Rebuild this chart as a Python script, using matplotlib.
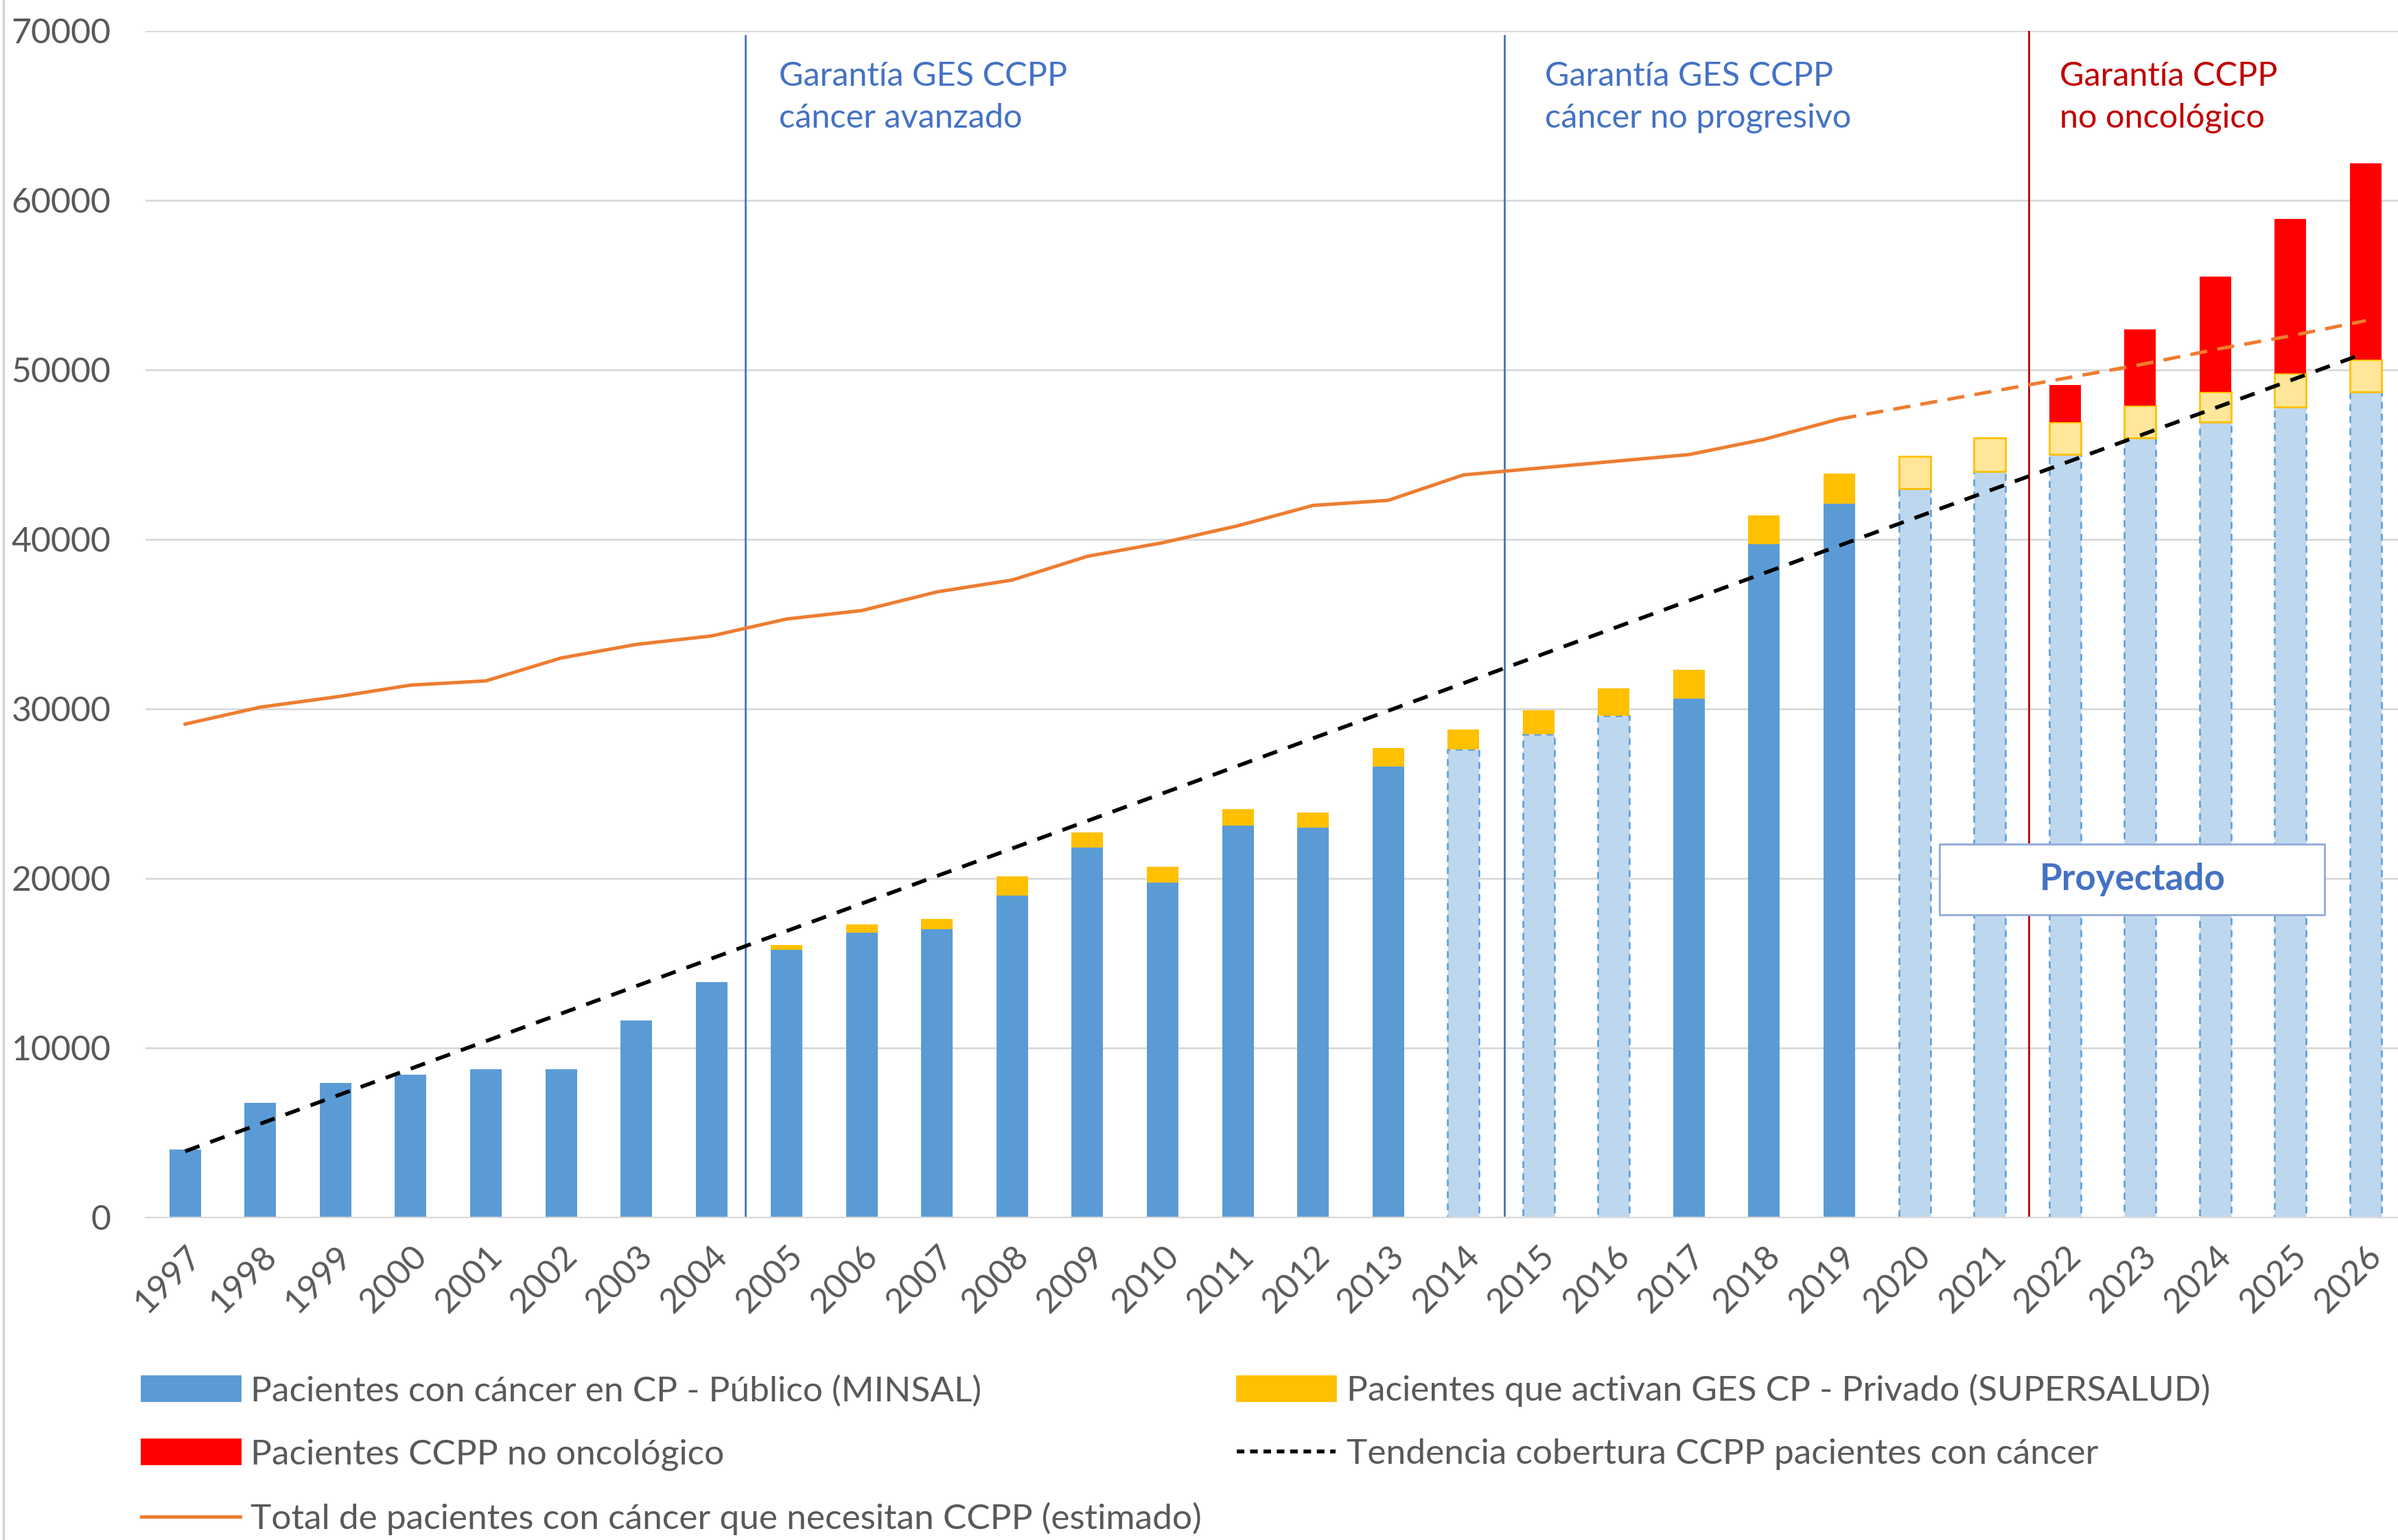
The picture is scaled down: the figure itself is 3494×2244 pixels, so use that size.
import matplotlib
matplotlib.use("Agg")
import matplotlib.pyplot as plt
from matplotlib.patches import Patch, Rectangle
from matplotlib.lines import Line2D

plt.rcParams['font.family'] = ['Lato', 'DejaVu Sans']

# datos
anios = list(range(1997, 2027))
publico = [4000, 6750, 7950, 8400, 8750, 8750, 11600, 13900, 15800, 16800,
           17000, 19000, 21800, 19750, 23100, 23000, 26600, 27600, 28500, 29600,
           30600, 39700, 42100, 43000, 44000, 45000, 46000, 46900, 47800, 48700]
privado = [0, 0, 0, 0, 0, 0, 0, 0, 250, 500,
           600, 1100, 900, 950, 1000, 900, 1100, 1200, 1400, 1600,
           1700, 1700, 1800, 1900, 2000, 1900, 1900, 1800, 2000, 1900]
no_onco = [0] * 25 + [2200, 4500, 6800, 9100, 11600]
total_anios = list(range(1997, 2020))
total = [29100, 30100, 30700, 31400, 31650, 33000, 33800, 34300, 35300, 35800,
         36900, 37600, 39000, 39800, 40800, 42000, 42300, 43800, 44200, 44600,
         45000, 45900, 47100]
total_proy_anios = [2019, 2020, 2021, 2022, 2023, 2024, 2025, 2026]
total_proy = [47100, 47900, 48700, 49500, 50300, 51200, 52000, 52900]
tend_anios = [1997, 2026]
tend = [3900, 51000]
# anios estimados (barras claras)
estim_azul = [2014, 2015, 2016, 2020, 2021, 2022, 2023, 2024, 2025, 2026]
estim_amar = [2020, 2021, 2022, 2023, 2024, 2025, 2026]

AZUL = '#5B9BD5'
AZUL_CL = '#BDD7EE'
AMAR = '#FFC000'
AMAR_CL = '#FFE699'
ROJO = '#FF0000'
NARANJA = '#ED7D31'
GRIS = '#595959'

fig = plt.figure(figsize=(17.47, 11.22), dpi=200)
ax = fig.add_axes([0.0606, 0.2095, 0.9394, 0.7705])

w = 0.42
for i, a in enumerate(anios):
    if a in estim_azul:
        ax.bar(a, publico[i], w, color=AZUL_CL, edgecolor=AZUL, linestyle=(0, (4, 3)), linewidth=0.9, zorder=2)
    else:
        ax.bar(a, publico[i], w, color=AZUL, linewidth=0, zorder=2)
    if privado[i] > 0:
        if a in estim_amar:
            ax.bar(a, privado[i], w, bottom=publico[i], color=AMAR_CL, edgecolor=AMAR, linewidth=1.0, zorder=2)
        else:
            ax.bar(a, privado[i], w, bottom=publico[i], color=AMAR, linewidth=0, zorder=2)
    if no_onco[i] > 0:
        ax.bar(a, no_onco[i], w, bottom=publico[i] + privado[i], color=ROJO, linewidth=0, zorder=2)

ax.plot(total_anios, total, color=NARANJA, lw=1.8, zorder=3)
ax.plot(total_proy_anios, total_proy, color=NARANJA, lw=1.8, ls=(0, (5, 3)), zorder=3)
ax.plot(tend_anios, tend, color='black', lw=2.0, ls=(0, (4, 3)), zorder=4)

# hitos
ax.plot([2004.45, 2004.45], [0, 69700], color='#4472C4', lw=1.0, zorder=1)
ax.plot([2014.55, 2014.55], [0, 69700], color='#4472C4', lw=1.0, zorder=1)
ax.plot([2021.52, 2021.52], [0, 70000], color='#C00000', lw=1.0, zorder=1)
txt_kw = dict(fontsize=17.5, va='top', ha='left', linespacing=1.45)
ax.text(2004.9, 68200, 'Garantía GES CCPP\ncáncer avanzado', color='#4472C4', **txt_kw)
ax.text(2015.08, 68200, 'Garantía GES CCPP\ncáncer no progresivo', color='#4472C4', **txt_kw)
ax.text(2021.93, 68200, 'Garantía CCPP\nno oncológico', color='#C00000', **txt_kw)

ax.add_patch(Rectangle((2020.33, 17850), 5.12, 4150, fc='white', ec='#8EA9DB', lw=1.0, zorder=5))
ax.text(2022.9, 19950, 'Proyectado', color='#4472C4', fontsize=19, fontweight='bold',
        ha='center', va='center', zorder=6)

ax.set_xlim(1996.47, 2026.43)
ax.set_ylim(0, 70000)
ax.set_yticks(range(0, 70001, 10000))
ax.set_xticks(anios)
ax.set_xticklabels([str(a) for a in anios], rotation=45, ha='right', rotation_mode='anchor')
ax.tick_params(axis='both', length=0, labelsize=18, labelcolor=GRIS)
ax.tick_params(axis='x', pad=12)
ax.tick_params(axis='y', pad=18)
ax.grid(axis='y', color='#D9D9D9', lw=1.0, zorder=0)
ax.set_axisbelow(True)
for s in ['top', 'right', 'left']:
    ax.spines[s].set_visible(False)
ax.spines['bottom'].set_color('#D9D9D9')

handles = [Patch(color=AZUL, label='Pacientes con cáncer en CP - Público (MINSAL)'),
           Patch(color=ROJO, label='Pacientes CCPP no oncológico'),
           Line2D([], [], color=NARANJA, lw=1.8, label='Total de pacientes con cáncer que necesitan CCPP (estimado)'),
           Patch(color=AMAR, label='Pacientes que activan GES CP - Privado (SUPERSALUD)'),
           Line2D([], [], color='black', lw=2.0, ls=(0, (2, 1.5)), label='Tendencia cobertura CCPP pacientes con cáncer')]
leg = fig.legend(handles=handles, loc='upper left', bbox_to_anchor=(0.053, 0.117), ncol=2,
                 frameon=False, fontsize=18.5, handlelength=2.8, handleheight=0.7,
                 handletextpad=0.3, columnspacing=1.0, labelspacing=0.9, borderaxespad=0)
for t in leg.get_texts():
    t.set_color(GRIS)

fig.add_artist(Line2D([0.0015, 0.0015], [0, 1], color='#D0D0D0', lw=1.2))

fig.savefig('out.png', dpi=200, facecolor='white')
